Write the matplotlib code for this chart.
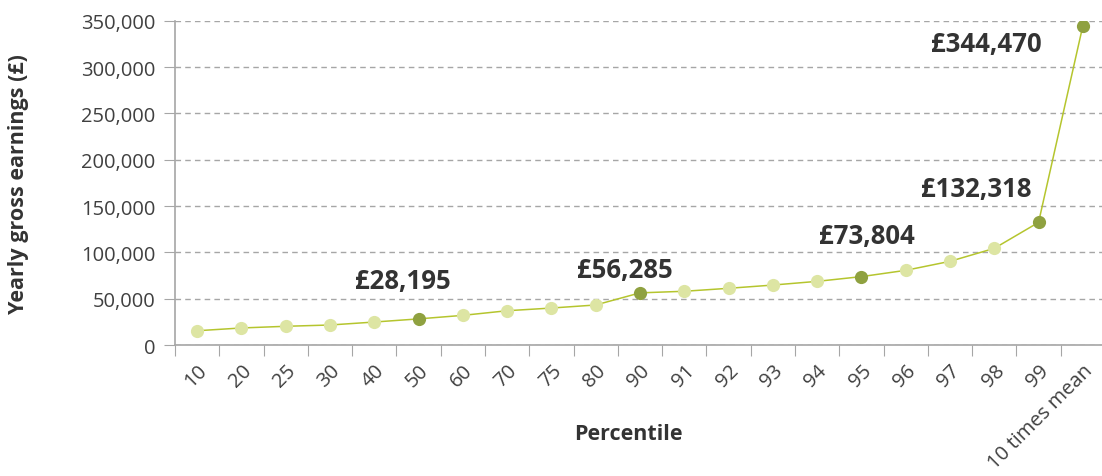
import numpy as np
import matplotlib.pyplot as plt
from matplotlib.ticker import FuncFormatter

plt.rcParams['font.family'] = ['Open Sans', 'DejaVu Sans']

# Data
percentiles = ['10', '20', '25', '30', '40', '50', '60', '70', '75', '80', '90',
               '91', '92', '93', '94', '95', '96', '97', '98', '99', '10 times mean']
earnings = [15400, 18400, 20200, 21600, 24800, 28195, 32000, 37000, 39900, 43200, 56285,
            58000, 61200, 64700, 68700, 73804, 80600, 90300, 104300, 132318, 344470]
highlight = ['50', '90', '95', '99', '10 times mean']

# label positions (category index, value)
label_pos = {
    '50': (4.65, 69500),
    '90': (9.67, 82000),
    '95': (15.12, 118000),
    '99': (17.59, 168500),
    '10 times mean': (17.83, 325800),
}

line_col = '#b5c52e'
light_col = '#dde5a3'
dark_col = '#8fa140'
text_col = '#333333'

fig = plt.figure(figsize=(11.02, 4.77), dpi=100)
ax = fig.add_axes([0.1588, 0.2746, 0.8439, 0.6799])

x = np.arange(len(percentiles))
ax.plot(x, earnings, color=line_col, lw=1.1, zorder=2)
for i, (p, v) in enumerate(zip(percentiles, earnings)):
    c = dark_col if p in highlight else light_col
    ax.plot(i, v, 'o', ms=9.5, color=c, mec='none', zorder=3)
    if p in highlight:
        lx, ly = label_pos[p]
        ax.text(lx, ly, f'£{v:,}', ha='center', va='center', fontsize=18.5,
                fontweight='bold', color=text_col, zorder=4)

ax.set_xlim(-0.5, len(percentiles) - 0.5)
ax.set_ylim(0, 350000)
ax.set_yticks(np.arange(0, 350001, 50000))
ax.yaxis.set_major_formatter(FuncFormatter(lambda v, pos: f'{int(v):,}'))
ax.yaxis.grid(True, linestyle=(0, (4, 3)), color='#a6a6a6', lw=1)
ax.set_axisbelow(True)

ax.set_xticks(np.arange(len(percentiles) + 1) - 0.5)
ax.set_xticklabels([])
ax.set_xticks(x, minor=True)
ax.set_xticklabels(percentiles, minor=True, rotation=45, ha='right',
                   rotation_mode='anchor', fontsize=14.5, color='#404040')
ax.tick_params(axis='x', which='minor', length=0, pad=11)
ax.tick_params(axis='x', which='major', length=8, color='#a6a6a6')
ax.tick_params(axis='y', length=8, color='#a6a6a6', labelsize=14.5, labelcolor='#404040', pad=6)

for s in ['top', 'right']:
    ax.spines[s].set_visible(False)
for s in ['left', 'bottom']:
    ax.spines[s].set_color('#a6a6a6')
    ax.spines[s].set_linewidth(1.2)

fig.text(628 / 1102, 1 - 435 / 477, 'Percentile', ha='center', va='center',
         fontsize=15.5, fontweight='bold', color=text_col)
fig.text(19 / 1102, 1 - 184 / 477, 'Yearly gross earnings (£)', ha='center', va='center',
         rotation=90, fontsize=15.5, fontweight='bold', color=text_col)

fig.savefig('out.png', dpi=100)
